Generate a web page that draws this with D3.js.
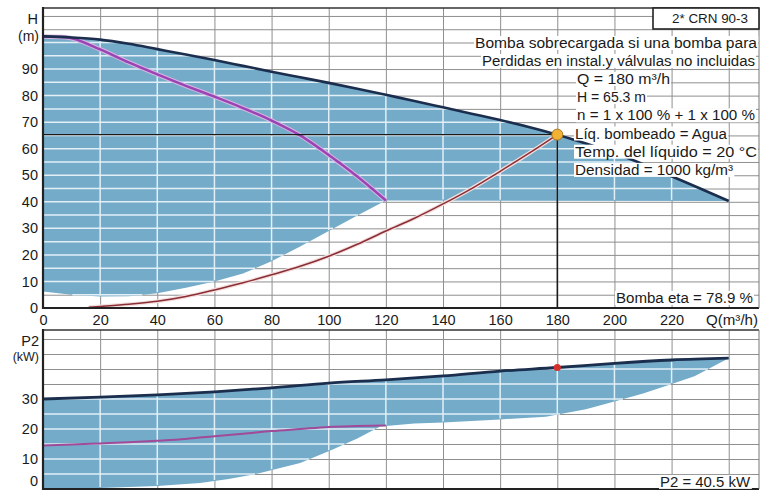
<!DOCTYPE html>
<html>
<head>
<meta charset="utf-8">
<script src="https://cdn.jsdelivr.net/npm/d3@7"></script>
<style>
  html, body { margin: 0; padding: 0; background: #ffffff; }
  svg { display: block; }
  text { font-family: "Liberation Sans", Arial, sans-serif; fill: #1a1a1a; }
</style>
</head>
<body>
<svg id="chart" width="761" height="491"></svg>
<script>
// ---- Data ---------------------------------------------------------------
const qTicks = [0, 20, 40, 60, 80, 100, 120, 140, 160, 180, 200, 220];
const hTicks = [0, 10, 20, 30, 40, 50, 60, 70, 80, 90];
const pTicks = [0, 10, 20, 30];

// Head curve, two pumps in parallel
const qhQ2 = [0, 10, 20, 30, 40, 50, 60, 70, 80, 90, 100, 110, 120, 130, 140, 150, 160, 170, 180, 190, 200, 210, 220, 230, 240];
const qhH2 = [102.3, 101.9, 101.1, 99.5, 97.5, 95.5, 93.4, 91.2, 89.0, 86.9, 84.8, 82.6, 80.3, 78.0, 75.6, 73.2, 70.8, 68.2, 65.3, 62.0, 58.4, 54.2, 49.6, 45.0, 40.3];

// Head curve, one pump
const qhQ1 = [0, 8, 20, 30, 40, 50, 60, 70, 80, 90, 100, 110, 120];
const qhH1 = [102.3, 102.0, 97.4, 92.5, 88.0, 83.7, 79.6, 75.3, 70.6, 65.0, 57.6, 49.5, 40.5];

// Lower edge of the shaded head range
const loQ = [0, 10, 20, 30, 40, 50, 60, 70, 80, 90, 100, 110, 120, 240];
const loH = [6.2, 5.0, 4.3, 4.4, 5.6, 7.6, 10.0, 13.0, 17.6, 23.2, 29.0, 34.8, 40.5, 40.3];

// System curve
const sysQ = [16, 20, 30, 40, 50, 60, 70, 80, 90, 100, 110, 120, 130, 140, 150, 160, 170, 180];
const sysH = [0.3, 0.6, 1.4, 2.5, 4.3, 6.8, 9.5, 12.5, 15.7, 19.5, 24.0, 29.0, 33.8, 39.2, 45.0, 51.5, 58.2, 65.3];

// Power curve, two pumps
const p2Q2 = [0, 20, 40, 60, 80, 100, 120, 140, 160, 180, 200, 220, 240];
const p2P2 = [30.0, 30.6, 31.4, 32.4, 33.7, 35.3, 36.4, 37.7, 39.3, 40.5, 41.9, 43.0, 43.6];

// Power curve, one pump
const p2Q1 = [0, 10, 20, 30, 40, 50, 60, 70, 80, 90, 100, 110, 120];
const p2P1 = [14.5, 14.8, 15.2, 15.6, 16.1, 16.7, 17.6, 18.4, 19.3, 20.0, 20.7, 21.0, 21.2];

// Lower edge of the shaded power range
const pLoQ = [0, 20, 40, 55, 65, 76, 90, 101, 110, 118, 130, 140, 160, 176, 190, 200, 210, 219, 228, 240];
const pLoP = [0, 0.3, 1.0, 2.0, 3.3, 5.3, 8.7, 13.0, 16.8, 20.8, 21.8, 22.2, 23.2, 24.1, 26.6, 29.2, 31.8, 34.7, 37.6, 43.6];

// Duty point
const dutyQ = 180, dutyH = 65.3, dutyP2 = 40.5;

const infoLines = [
  "Q = 180 m³/h",
  "H = 65.3 m",
  "n = 1 x 100 % + 1 x 100 %",
  "Líq. bombeado = Agua",
  "Temp. del líquido = 20 °C",
  "Densidad = 1000 kg/m³"
];

// ---- Layout -------------------------------------------------------------
const svg = d3.select("#chart");
const X0 = 43, X1 = 759;
const topY0 = 8, topY1 = 308;
const botY0 = 330, botY1 = 489;

const x = d3.scaleLinear().domain([0, 250]).range([X0, 757.3]);
const yH = d3.scaleLinear().domain([0, 113]).range([topY1, topY0]);
const yP = d3.scaleLinear().domain([0, 53]).range([botY1, botY0]);

const zip = (a, b) => a.map((v, i) => [v, b[i]]);

const BLUE = "#74abc9";
const GRID = "#8f8f8f";
const GRID_IN = "#e2eff6";
const NAVY = "#1b2e4e";
const PURPLE = "#9a44b4";

// white plot backgrounds
svg.append("rect").attr("x", X0).attr("y", topY0).attr("width", X1 - X0).attr("height", topY1 - topY0).attr("fill", "#fff");
svg.append("rect").attr("x", X0).attr("y", botY0).attr("width", X1 - X0).attr("height", botY1 - botY0).attr("fill", "#fff");

const qGridVals = d3.range(20, 241, 20);

// grid lines built from d3 axes with full-length ticks
function drawGrid(parent, ys, yScale, ya, yb, color) {
  const gh = parent.append("g").attr("transform", `translate(${X0},0)`)
    .call(d3.axisRight(yScale).tickValues(ys).tickSize(X1 - X0).tickFormat(""));
  gh.select(".domain").remove();
  gh.selectAll(".tick line").attr("stroke", color).attr("stroke-width", 1);
  const gv = parent.append("g").attr("transform", `translate(0,${ya})`)
    .call(d3.axisBottom(x).tickValues(qGridVals).tickSize(yb - ya).tickFormat(""));
  gv.select(".domain").remove();
  gv.selectAll(".tick line").attr("stroke", color).attr("stroke-width", 1);
}

// light grid segments limited to the shaded band between two edges
function innerGrid(ys, yScale, upQ, upV, loQs, loVs, color) {
  const up = d3.scaleLinear().domain(upQ).range(upV).clamp(true);
  const lo = d3.scaleLinear().domain(loQs).range(loVs).clamp(true);
  const qMax = d3.max(upQ);
  const g = svg.append("g");
  const segs = [];
  ys.forEach(v => {
    let start = null;
    for (let q = 0; q <= qMax + 0.001; q += 0.25) {
      const inside = lo(q) < v && up(q) > v;
      if (inside && start === null) start = q;
      if ((!inside || q + 0.25 > qMax) && start !== null) {
        segs.push([x(start), x(inside ? q : q - 0.25), yScale(v)]);
        start = null;
      }
    }
  });
  segs.forEach(s => {
    g.append("path").attr("d", `M${s[0]},${s[2]}H${s[1]}`)
      .attr("fill", "none").style("stroke", color).style("stroke-width", "1.5px");
  });
  qGridVals.filter(q => q < qMax).forEach(q => {
    const xx = x(q);
    g.append("path").attr("d", `M${xx},${yScale(up(q)) + 1.5}V${yScale(lo(q)) - 1}`)
      .attr("fill", "none").style("stroke", color).style("stroke-width", "1.5px");
  });
}

const hGridVals = d3.range(5, 111, 5);
const pGridVals = d3.range(5, 51, 5);

// ---- Head chart ---------------------------------------------------------
drawGrid(svg.append("g"), hGridVals, yH, topY0, topY1, GRID);

const headPath = d3.line().x(d => x(d[0])).y(d => yH(d[1])).curve(d3.curveMonotoneX);
const headArea = zip(qhQ2, qhH2).concat(zip(loQ, loH).reverse());
const headPoly = d3.line().x(d => x(d[0])).y(d => yH(d[1]))(headArea) + "Z";
svg.append("path").attr("d", headPoly).attr("fill", BLUE);
innerGrid(hGridVals, yH, qhQ2, qhH2, loQ, loH, GRID_IN);

// system curve
const sysLine = headPath(zip(sysQ, sysH));
svg.append("path").attr("d", sysLine).attr("fill", "none").attr("stroke", "#f3dede").attr("stroke-width", 4);
svg.append("path").attr("d", sysLine).attr("fill", "none").attr("stroke", "#8a2d34").attr("stroke-width", 1.5);

// one-pump head curve
const h1 = headPath(zip(qhQ1, qhH1));
svg.append("path").attr("d", h1).attr("fill", "none").attr("stroke", "#d9b6e3").attr("stroke-width", 4.5);
svg.append("path").attr("d", h1).attr("fill", "none").attr("stroke", PURPLE).attr("stroke-width", 2.5);

// two-pump head curve
svg.append("path").attr("d", headPath(zip(qhQ2, qhH2))).attr("fill", "none")
  .attr("stroke", NAVY).attr("stroke-width", 2.6);

// duty point guide lines
svg.append("line").attr("x1", X0).attr("x2", x(dutyQ)).attr("y1", yH(dutyH)).attr("y2", yH(dutyH))
  .attr("stroke", "#1a1a1a").attr("stroke-width", 1.3);
svg.append("line").attr("x1", x(dutyQ)).attr("x2", x(dutyQ)).attr("y1", yH(dutyH)).attr("y2", topY1)
  .attr("stroke", "#1a1a1a").attr("stroke-width", 1.5);

// ---- Power chart --------------------------------------------------------
drawGrid(svg.append("g"), pGridVals, yP, botY0, botY1, GRID);
const powArea = zip(p2Q2, p2P2).concat(zip(pLoQ, pLoP).reverse());
const powPoly = d3.line().x(d => x(d[0])).y(d => yP(d[1]))(powArea) + "Z";
svg.append("path").attr("d", powPoly).attr("fill", BLUE);
innerGrid(pGridVals, yP, p2Q2, p2P2, pLoQ, pLoP, GRID_IN);

const powPath = d3.line().x(d => x(d[0])).y(d => yP(d[1])).curve(d3.curveMonotoneX);
svg.append("path").attr("d", powPath(zip(p2Q1, p2P1))).attr("fill", "none")
  .attr("stroke", "#a04a98").attr("stroke-width", 2);
svg.append("path").attr("d", powPath(zip(p2Q2, p2P2))).attr("fill", "none")
  .attr("stroke", NAVY).attr("stroke-width", 2.8);

// ---- Frames -------------------------------------------------------------
function frame(ya, yb) {
  svg.append("line").attr("x1", X0).attr("x2", X1).attr("y1", ya).attr("y2", ya).attr("stroke", "#333").attr("stroke-width", 1.5);
  svg.append("line").attr("x1", X0).attr("x2", X1).attr("y1", yb).attr("y2", yb).attr("stroke", "#222").attr("stroke-width", 2);
  svg.append("line").attr("x1", X1).attr("x2", X1).attr("y1", ya).attr("y2", yb).attr("stroke", "#777").attr("stroke-width", 1);
  svg.append("line").attr("x1", X0).attr("x2", X0).attr("y1", ya - 1).attr("y2", yb + 1).attr("stroke", "#222").attr("stroke-width", 2.2);
}
frame(topY0, topY1);
frame(botY0, botY1);

// duty point markers
svg.append("circle").attr("cx", x(dutyQ)).attr("cy", yH(dutyH)).attr("r", 5.5)
  .attr("fill", "#f2b233").attr("stroke", "#a8741a").attr("stroke-width", 1);
svg.append("circle").attr("cx", x(dutyQ)).attr("cy", yP(dutyP2)).attr("r", 3.6)
  .attr("fill", "#d4302c");

// ---- Axes ---------------------------------------------------------------
const tickFont = 14.5;
const xAxis = svg.append("g").attr("transform", `translate(0,${topY1})`)
  .call(d3.axisBottom(x).tickValues(qTicks).tickSize(0).tickPadding(0).tickFormat(d3.format("d")));
xAxis.select(".domain").remove();
xAxis.selectAll("text").attr("y", 12).attr("dy", "0.32em").style("font-size", tickFont + "px")
  .style("font-family", "Liberation Sans, Arial, sans-serif").attr("fill", "#1a1a1a");

const yAxisH = svg.append("g").attr("transform", `translate(${X0 - 5},0)`)
  .call(d3.axisLeft(yH).tickValues(hTicks).tickSize(0).tickPadding(0).tickFormat(d3.format("d")));
yAxisH.select(".domain").remove();
yAxisH.selectAll("text").style("font-size", tickFont + "px").attr("fill", "#1a1a1a")
  .style("font-family", "Liberation Sans, Arial, sans-serif");

const yAxisP = svg.append("g").attr("transform", `translate(${X0 - 5},0)`)
  .call(d3.axisLeft(yP).tickValues(pTicks).tickSize(0).tickPadding(0).tickFormat(d3.format("d")));
yAxisP.select(".domain").remove();
yAxisP.selectAll("text").style("font-size", tickFont + "px").attr("fill", "#1a1a1a")
  .style("font-family", "Liberation Sans, Arial, sans-serif")
  .attr("dy", d => d === 0 ? "-0.25em" : "0.32em");

// ---- Text ---------------------------------------------------------------
function label(px, py, str, opts = {}) {
  const t = svg.append("text").attr("x", px).attr("y", py).attr("dy", "0.35em")
    .attr("text-anchor", opts.anchor || "start")
    .style("font-size", (opts.size || 14) + "px")
    .text(str);
  if (opts.width) t.attr("textLength", opts.width).attr("lengthAdjust", "spacingAndGlyphs");
  if (opts.bg) {
    const b = t.node().getBBox();
    svg.insert("rect", () => t.node())
      .attr("x", b.x - 1).attr("y", b.y + 1).attr("width", b.width + 2).attr("height", b.height - 2)
      .attr("fill", "#fff");
  }
  return t;
}

label(38, 19, "H", { anchor: "end", size: 14.5 });
label(39, 36, "(m)", { anchor: "end", size: 14 });
label(39, 341, "P2", { anchor: "end", size: 14.5 });
label(39, 357, "(kW)", { anchor: "end", size: 12.5 });
label(758, 320, "Q(m³/h)", { anchor: "end", size: 14, width: 52 });

// type designation box
svg.append("rect").attr("x", 653).attr("y", topY0).attr("width", X1 - 653).attr("height", 21)
  .attr("fill", "#fff").attr("stroke", "#222").attr("stroke-width", 1.6);
label(710, 19, "2* CRN 90-3", { anchor: "middle", size: 12.5, width: 76 });

label(475, 43, "Bomba sobrecargada si una bomba para", { size: 14, width: 282, bg: true });
label(482, 61, "Perdidas en instal.y válvulas no incluidas", { size: 14, width: 273, bg: true });

const infoWidths = [93, 69, 178, 152, 182, 158];
const infoX = [577, 577, 577, 575, 575, 575];
infoLines.forEach((s, i) => label(infoX[i], 79 + i * 18.2, s, { size: 14, width: infoWidths[i], bg: true }));

label(616, 298, "Bomba eta = 78.9 %", { size: 14, width: 137, bg: true });
label(660, 482, "P2 = 40.5 kW", { size: 14, width: 90, bg: true });
</script>
</body>
</html>
